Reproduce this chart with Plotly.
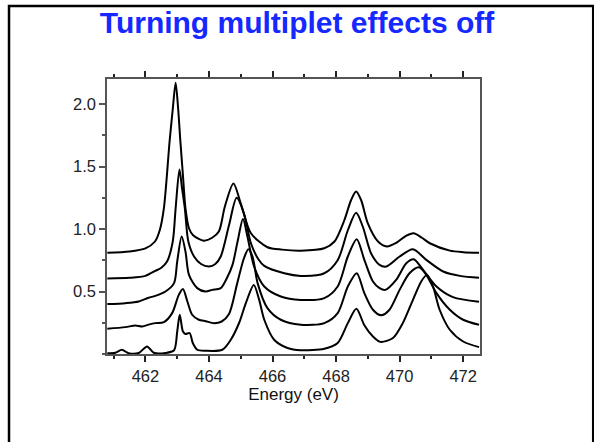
import plotly.graph_objects as go

# Energy axis samples (eV) and intensities, one list per spectrum (top to bottom)
c1_x = [460.8, 461.5, 462.0, 462.3, 462.45, 462.58, 462.76, 462.86, 462.95, 463.03, 463.1, 463.18, 463.26, 463.37,
        463.5, 463.84, 464.1, 464.31, 464.5, 464.77, 465.0, 465.32, 465.84, 466.3, 466.89, 467.63, 467.95, 468.26,
        468.47, 468.63, 468.79, 469.0, 469.32, 469.6, 469.9, 470.2, 470.44, 470.7, 470.95, 471.58, 472.0, 472.5]
c1_y = [0.81, 0.82, 0.845, 0.9, 0.99, 1.165, 1.70, 1.96, 2.17, 1.96, 1.70, 1.43, 1.165, 1.006,
        0.95, 0.907, 0.93, 0.98, 1.18, 1.365, 1.205, 0.966, 0.854, 0.835, 0.827, 0.846, 0.90, 1.07,
        1.23, 1.30, 1.23, 1.045, 0.90, 0.86, 0.89, 0.945, 0.966, 0.93, 0.886, 0.827, 0.815, 0.81]

c2_x = [460.8, 461.5, 462.0, 462.31, 462.5, 462.68, 462.86, 462.95, 463.07, 463.15, 463.24, 463.35, 463.53, 463.75,
        464.0, 464.2, 464.37, 464.63, 464.87, 465.1, 465.32, 465.55, 465.74, 466.37, 466.89, 467.63, 468.05,
        468.37, 468.63, 468.84, 469.1, 469.37, 469.58, 470.0, 470.42, 470.84, 471.37, 471.9, 472.5]
c2_y = [0.605, 0.61, 0.625, 0.665, 0.69, 0.74, 0.90, 1.165, 1.476, 1.33, 1.165, 0.90, 0.78, 0.72,
        0.70, 0.72, 0.78, 1.03, 1.25, 1.125, 0.886, 0.76, 0.705, 0.646, 0.625, 0.646, 0.75,
        0.99, 1.13, 1.02, 0.806, 0.713, 0.70, 0.78, 0.838, 0.753, 0.66, 0.625, 0.61]

c3_x = [460.8, 461.37, 461.79, 462.1, 462.31, 462.63, 462.9, 463.0, 463.14, 463.26, 463.37, 463.63, 463.89, 464.1,
        464.37, 464.55, 464.74, 464.9, 465.07, 465.21, 465.42, 465.74, 466.26, 466.89, 467.63, 468.05, 468.37,
        468.65, 468.89, 469.16, 469.37, 469.55, 469.89, 470.21, 470.44, 470.74, 471.16, 471.68, 472.5]
c3_y = [0.40, 0.407, 0.42, 0.45, 0.465, 0.50, 0.567, 0.74, 0.94, 0.82, 0.633, 0.527, 0.50, 0.513,
        0.527, 0.60, 0.713, 0.90, 1.08, 0.94, 0.70, 0.54, 0.46, 0.433, 0.447, 0.54, 0.78,
        0.918, 0.753, 0.58, 0.527, 0.513, 0.593, 0.726, 0.758, 0.673, 0.54, 0.455, 0.418]

c4_x = [460.8, 461.37, 461.68, 461.9, 462.1, 462.31, 462.58, 462.84, 463.05, 463.18, 463.32, 463.47, 463.68,
        463.9, 464.16, 464.4, 464.63, 464.89, 465.1, 465.24, 465.37, 465.53, 465.84, 466.26, 466.89, 467.63,
        468.05, 468.37, 468.65, 468.89, 469.16, 469.42, 469.68, 470.0, 470.31, 470.61, 470.84, 471.16, 471.58,
        472.0, 472.5]
c4_y = [0.202, 0.215, 0.228, 0.22, 0.235, 0.247, 0.255, 0.327, 0.473, 0.52, 0.42, 0.314, 0.274,
        0.262, 0.247, 0.26, 0.32, 0.567, 0.766, 0.838, 0.78, 0.567, 0.367, 0.274, 0.234, 0.247,
        0.327, 0.54, 0.646, 0.487, 0.354, 0.31, 0.354, 0.513, 0.646, 0.694, 0.633, 0.487, 0.354,
        0.274, 0.234]

c5_x = [460.8, 461.05, 461.26, 461.47, 461.79, 462.05, 462.26, 462.63, 462.9, 463.0, 463.08, 463.18, 463.26, 463.39,
        463.49, 463.63, 463.89, 464.42, 464.7, 464.95, 465.16, 465.41, 465.58, 465.74, 466.05, 466.47, 466.89,
        467.63, 468.05, 468.37, 468.64, 468.89, 469.16, 469.4, 469.79, 470.1, 470.42, 470.68, 470.86, 471.05,
        471.26, 471.58, 472.0, 472.5]
c5_y = [0.006, 0.01, 0.034, 0.006, 0.008, 0.061, 0.01, 0.008, 0.03, 0.18, 0.314, 0.18, 0.16, 0.168,
        0.088, 0.034, 0.026, 0.034, 0.12, 0.25, 0.407, 0.553, 0.433, 0.274, 0.114, 0.048, 0.03,
        0.042, 0.088, 0.247, 0.362, 0.23, 0.14, 0.097, 0.128, 0.247, 0.433, 0.58, 0.633, 0.54,
        0.354, 0.194, 0.10, 0.055]

x_tickvals = [462, 464, 466, 468, 470, 472]
y_tickvals = [0.5, 1.0, 1.5, 2.0]
y_ticktext = ["0.5", "1.0", "1.5", "2.0"]
x_range = [460.79, 472.53]
y_range = [0.0, 2.2]

fig = go.Figure()
for xs, ys in [(c1_x, c1_y), (c2_x, c2_y), (c3_x, c3_y), (c4_x, c4_y), (c5_x, c5_y)]:
    fig.add_trace(go.Scatter(x=xs, y=ys, mode="lines",
                             line=dict(color="black", width=2, shape="spline", smoothing=0.8),
                             showlegend=False, hoverinfo="skip"))

axis_font = dict(family="Liberation Sans, Arial, sans-serif", size=16.5, color="#222")
title_font = dict(family="Liberation Sans, Arial, sans-serif", size=17, color="#111")
fig.update_xaxes(range=x_range, tickvals=x_tickvals, ticks="outside", ticklen=6, tickwidth=1.5,
                 tickcolor="#222", showline=True, linecolor="#555", linewidth=1.5, mirror="ticks",
                 showgrid=False, zeroline=False, tickfont=axis_font,
                 minor=dict(dtick=1, tick0=460, ticks="outside", ticklen=3.5, tickwidth=1.5, tickcolor="#222"),
                 title=dict(text="Energy (eV)", font=title_font, standoff=5))
fig.update_yaxes(range=y_range, tickvals=y_tickvals, ticktext=y_ticktext, ticks="outside", ticklen=6,
                 tickwidth=1.5, tickcolor="#555", showline=True, linecolor="#555", linewidth=1.5,
                 mirror=True, showgrid=False, zeroline=False, tickfont=axis_font,
                 minor=dict(dtick=0.25, tick0=0, ticks="outside", ticklen=3.5, tickwidth=1.5, tickcolor="#555"))

fig.add_shape(type="rect", xref="paper", yref="paper", x0=-0.2627, x1=1.3035, y0=-0.4, y1=1.2655,
              line=dict(color="black", width=2.5), fillcolor="rgba(0,0,0,0)", layer="above")

fig.update_layout(
    width=594, height=442,
    margin=dict(l=107, r=114, t=79, b=88),
    paper_bgcolor="white", plot_bgcolor="white",
    title=dict(text="<b>Turning multiplet effects off</b>", x=0.5, xref="container", xanchor="center",
               y=1 - 22 / 442, yref="container", yanchor="middle",
               font=dict(family="Liberation Sans, Arial, sans-serif", size=30, color="#1428ff")),
)

fig.write_html("out.html")
